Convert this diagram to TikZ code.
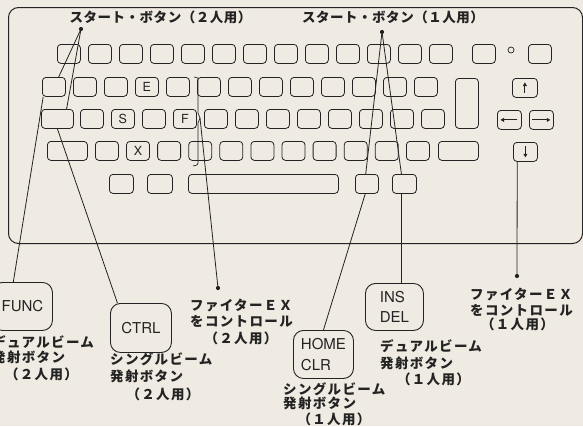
\documentclass[tikz,border=0pt]{standalone}
\usepackage{fontspec}
\setmainfont{TeX Gyre Heros}
\newfontfamily\jp{Noto Sans CJK JP}[LetterSpace=10]
\newfontfamily\jptop{Noto Sans CJK JP}[LetterSpace=4]
\usetikzlibrary{calc,arrows.meta}
\definecolor{paper}{RGB}{239,235,226}
\definecolor{ink}{RGB}{35,35,35}
\tikzset{
 keycap/.style={draw=ink, line width=0.8pt, rounded corners=3.5pt, anchor=north west, inner sep=0pt, minimum height=19pt, minimum width=23pt},
 keylbl/.style={font=\fontsize{12.5}{12.5}\selectfont, text=ink, inner sep=0pt},
 bigkey/.style={draw=ink, line width=0.9pt, rounded corners=10pt, inner sep=0pt, anchor=north west, font=\fontsize{15}{20.5}\selectfont, align=left, text=ink},
 jptext/.style={font=\jp\bfseries\fontsize{13.5}{16.5}\selectfont, text=ink, inner sep=0pt},
 jptoptext/.style={font=\jptop\bfseries\fontsize{13.5}{16.5}\selectfont, text=ink, inner sep=0pt},
 conn/.style={draw=ink, line width=0.8pt},
 pin/.style={circle, fill=ink, inner sep=0pt, minimum size=4.2pt},
 arr/.style={draw=ink, line width=1pt, -{Triangle[length=3.6pt,width=3.8pt]}},
}
\begin{document}
\begin{tikzpicture}[x=1pt,y=-1pt]
\path[use as bounding box, fill=paper] (0,0) rectangle (583,426);
\clip (0,0) rectangle (583,426);
% keyboard frame
\node[draw=ink, line width=1pt, rounded corners=10pt, anchor=north west, minimum width=574pt, minimum height=236pt, inner sep=0pt] (kb) at (8,7) {};
% row 1
\foreach \i in {1,...,13} \node[keycap] (r1-\i) at ({57+31*(\i-1)},44) {};
\node[keycap] (r1-a) at (472,44) {};
\node[keycap] (r1-b) at (528,44) {};
\draw[ink, line width=0.7pt] (511,50) circle (3pt);
% row 2
\foreach \i in {1,...,13} \node[keycap] (r2-\i) at ({42+31*(\i-1)},77) {};
\node[keycap, minimum height=50pt] (ret) at (455,78) {};
\node[keycap, minimum width=25pt] (ku) at (512,78) {};
% row 3
\node[keycap, minimum width=32pt] (r3-0) at (41,109) {};
\foreach \i in {1,...,12} \node[keycap] (r3-\i) at ({80+31*(\i-1)},109) {};
\node[keycap, minimum width=24pt] (kl) at (497,110) {};
\node[keycap, minimum width=24pt] (kr) at (529,110) {};
% row 4
\node[keycap, minimum width=40pt] (r4-0) at (47,141) {};
\foreach \i in {1,...,11} \node[keycap] (r4-\i) at ({95+31.1*(\i-1)},141) {};
\node[keycap, minimum width=40pt] (r4-x) at (438,141) {};
\node[keycap, minimum width=24pt] (kd) at (513,142) {};
% row 5
\node[keycap, minimum width=24pt] (r5-1) at (109,174) {};
\node[keycap, minimum width=25pt] (r5-2) at (147,174) {};
\node[keycap, minimum width=150pt] (r5-3) at (188,174) {};
\node[keycap] (r5-4) at (355,174) {};
\node[keycap, minimum width=24pt] (r5-5) at (392,174) {};
% key letters
\node[keylbl] (lE) at (r2-4.center) {E};
\node[keylbl] (lS) at (r3-2.center) {S};
\node[keylbl] (lF) at (r3-4.center) {F};
\node[keylbl] (lX) at (r4-2.center) {X};
% arrow glyphs
\draw[arr] ($(ku.center)+(0,5)$) -- ($(ku.center)+(0,-5.5)$);
\draw[arr] ($(kd.center)+(0,-6)$) -- ($(kd.center)+(0,5.5)$);
\draw[arr] ($(kl.center)+(8,0)$) -- ($(kl.center)+(-9,0)$);
\draw[arr] ($(kr.center)+(-9,0)$) -- ($(kr.center)+(9,0)$);
% brace near F
\coordinate (fbr) at (200,118);
\draw[ink, line width=0.7pt] (194,77) -- (198,78) -- (198,113) -- (fbr) -- (198,123) -- (198,160) .. controls (198,165) .. (193,166);
% top labels and pins
\node[jptoptext] (t2) at (160.5,17) {スタート・ボタン（２人用）};
\node[jptoptext] (t1) at (393,17) {スタート・ボタン（１人用）};
\node[pin] (s2pin) at (81,29) {};
\node[pin] (s1pin) at (382,32) {};
\node[pin] (fex2pin) at (218,288) {};
\node[pin] (fex1pin) at (517,276) {};
% bottom boxes
\node[bigkey, minimum width=60pt, minimum height=48pt, align=center] (func) at (-8,282) {FUNC};
\node[bigkey, minimum width=61pt, minimum height=49pt, align=center] (ctrl) at (110,303) {CTRL};
\node[bigkey, minimum width=60pt, minimum height=48pt] (home) at (293,330) {HOME\\CLR};
\node[bigkey, minimum width=58pt, minimum height=47pt] (insdel) at (365,283) {INS\\DEL};
% connectors
\draw[conn] (s2pin.center) -- ($(r2-1.north west)!0.7!(r2-1.north east)$);
\draw[conn] (s2pin.center) -- ($(r3-0.north west)!0.78!(r3-0.north east)$);
\draw[conn] ($(r2-1.south west)!0.05!(r2-1.south east)$) -- ($(func.north west)!0.35!(func.north east)$);
\draw[conn] (r3-0.south) -- ($(ctrl.north west)!0.12!(ctrl.north east)$);
\draw[conn] (fbr) -- (fex2pin.center);
\draw[conn] (s1pin.center) -- ($(r5-4.north west)!0.45!(r5-4.north east)$);
\draw[conn] (s1pin.center) -- ($(r5-5.north west)!0.38!(r5-5.north east)$);
\draw[conn] ($(r5-4.south west)!0.43!(r5-4.south east)$) -- (home.north);
\coordinate (insA) at ($(r5-5.south west)!0.36!(r5-5.south east)$);
\draw[conn] (insA) -- (insA |- insdel.north);
\coordinate (kdA) at ($(kd.south west)!0.17!(kd.south east)$);
\draw[conn] (kdA) -- (fex1pin.center);
% texts
\node[jptext, anchor=west] (fl1) at (-8,342) {デュアルビーム};
\node[jptext, anchor=west] (fl2) at (-8,357) {発射ボタン};
\node[jptext] (fl3) at (41.5,374) {（２人用）};
\node[jptext, anchor=west] (cl1) at (110,359) {シングルビーム};
\node[jptext, anchor=west] (cl2) at (110,376) {発射ボタン};
\node[jptext] (cl3) at (163,394) {（２人用）};
\node[jptext, anchor=west] (el1) at (190,305) {ファイターＥＸ};
\node[jptext, anchor=west] (el2) at (190,321) {をコントロール};
\node[jptext] (el3) at (241,338) {（２人用）};
\node[jptext, anchor=west] (il1) at (380,346) {デュアルビーム};
\node[jptext, anchor=west] (il2) at (380,363) {発射ボタン};
\node[jptext] (il3) at (433.5,379) {（１人用）};
\node[jptext, anchor=west] (hl1) at (283,389) {シングルビーム};
\node[jptext, anchor=west] (hl2) at (283,403) {発射ボタン};
\node[jptext] (hl3) at (334,419) {（１人用）};
\node[jptext, anchor=west] (gl1) at (470,294) {ファイターＥＸ};
\node[jptext, anchor=west] (gl2) at (470,310) {をコントロール};
\node[jptext] (gl3) at (517.5,324) {（１人用）};
\end{tikzpicture}
\end{document}
